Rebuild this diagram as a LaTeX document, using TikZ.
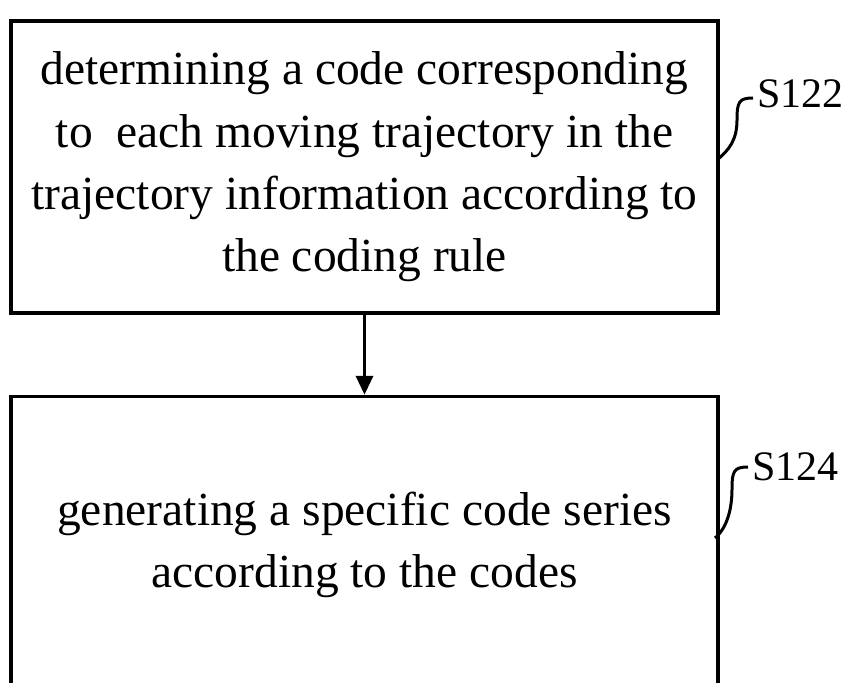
\documentclass[tikz,border=0pt]{standalone}
\usepackage{fontspec}
\setmainfont{Liberation Serif}
\usetikzlibrary{positioning,arrows.meta}

\begin{document}
\begin{tikzpicture}[x=1pt, y=-1pt,
  every node/.style = {align=center, inner sep=0pt},
  stepbox/.style = {shape=rectangle, draw, line width=3.5pt,
    minimum width=707pt, font=\fontsize{47.5}{62.3}\selectfont},
  steplabel/.style = {anchor=west, font=\fontsize{42}{46}\selectfont},
  tie/.style = {line width=3pt}]
  \clip (0,0) rectangle (850,682);
  \node [stepbox, minimum height=292pt] (s122box) at (364.5,167)
    {determining a code corresponding\\
     to\ \ each moving trajectory in the\\
     trajectory information according to\\
     the coding rule};
  \node [stepbox, minimum height=297pt, below=80pt of s122box] (s124box)
    {generating a specific code series\\
     according to the codes};
  \draw [line width=3.5pt, -{Triangle[length=19pt,width=17pt]}]
    (s122box) -- (s124box);
  % step numbers
  \node [steplabel] (s122lbl) at (757,94) {S122};
  \node [steplabel] (s124lbl) at (752,467) {S124};
  \draw [tie] (s122lbl.west) ++(-4,4) .. controls +(-14,0) and +(0,-18) .. ++(-16,22)
    .. controls +(0,20) and +(12,-10) .. ++(-20,40);
  \draw [tie] (s124lbl.west) ++(-4,0) .. controls +(-14,0) and +(0,-18) .. ++(-16,22)
    .. controls +(0,20) and +(12,-10) .. ++(-17,49);
\end{tikzpicture}
\end{document}
